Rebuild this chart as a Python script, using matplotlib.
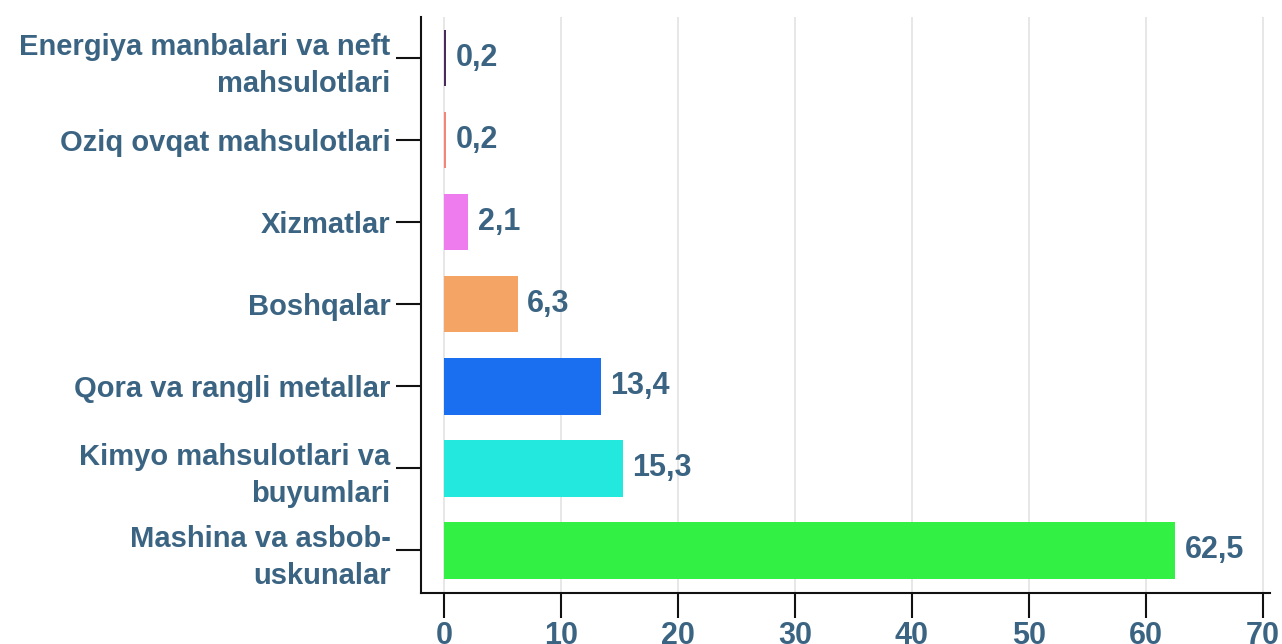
import matplotlib
matplotlib.use("Agg")
import matplotlib.pyplot as plt

categories = [
    "Energiya manbalari va neft\nmahsulotlari",
    "Oziq ovqat mahsulotlari",
    "Xizmatlar",
    "Boshqalar",
    "Qora va rangli metallar",
    "Kimyo mahsulotlari va\nbuyumlari",
    "Mashina va asbob-\nuskunalar",
]
values = [0.2, 0.2, 2.1, 6.3, 13.4, 15.3, 62.5]
value_labels = ["0,2", "0,2", "2,1", "6,3", "13,4", "15,3", "62,5"]
colors = ["#4a2b5c", "#f28779", "#ee7cee", "#f4a464", "#1a6ff0", "#22e8dd", "#33f045"]
xticks = [0, 10, 20, 30, 40, 50, 60, 70]

TEXT = "#3b6483"
FAMILY = "Liberation Sans"

fig = plt.figure(figsize=(12.82, 6.44), dpi=100)
ax = fig.add_axes([0.3284, 0.0792, 0.6622, 0.8944])

ypos = list(range(len(categories)))
ax.barh(ypos, values, height=0.69, color=colors, zorder=3)
ax.set_ylim(len(categories) - 0.48, -0.5)
ax.set_xlim(-1.95, 70.6)

for y, v, lab in zip(ypos, values, value_labels):
    ax.text(v + 0.8, y, lab, va="center", ha="left", fontsize=22, fontweight="bold",
            color=TEXT, family=FAMILY)

ax.set_yticks(ypos)
ax.set_yticklabels(categories, fontsize=21, fontweight="bold", color=TEXT, family=FAMILY,
                   linespacing=1.4)
ax.set_xticks(xticks)
ax.set_xticklabels([str(t) for t in xticks], fontsize=22, fontweight="bold", color=TEXT,
                   family=FAMILY)
ax.tick_params(axis="both", length=18, width=1.5, color="#111111", pad=4)
ax.tick_params(axis="x", pad=2)

ax.grid(axis="x", color="#e3e3e3", linewidth=1.2, zorder=0)
for s in ["top", "right"]:
    ax.spines[s].set_visible(False)
for s in ["left", "bottom"]:
    ax.spines[s].set_linewidth(1.5)
    ax.spines[s].set_color("#111111")

fig.savefig("out.png", dpi=100, facecolor="white")
